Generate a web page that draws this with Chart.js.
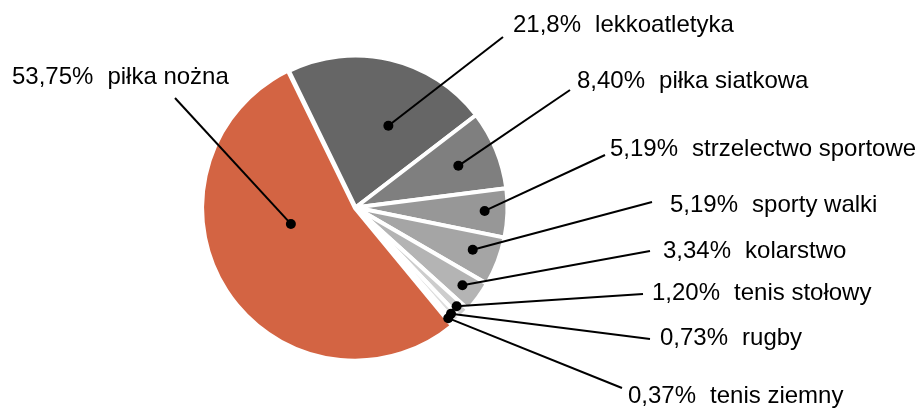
<!DOCTYPE html>
<html lang="pl">
  <head>
    <meta charset="utf-8">
    <title>Dyscypliny sportowe</title>
    <script src="https://cdn.jsdelivr.net/npm/chart.js@4.4.1/dist/chart.umd.min.js"></script>
    <style>
      body { margin: 0; background: #fff; }
      #wrap { width: 916px; height: 408px; }
    </style>
  </head>
  <body>
    <div id="wrap"><canvas id="chart-1" width="916" height="408"></canvas></div>

    <script>
      // data
      var sports = ['lekkoatletyka', 'piłka siatkowa', 'strzelectwo sportowe', 'sporty walki',
                    'kolarstwo', 'tenis stołowy', 'rugby', 'tenis ziemny', 'piłka nożna'];
      var shares = [21.8, 8.40, 5.19, 5.19, 3.34, 1.20, 0.73, 0.37, 53.75];
      var shareText = ['21,8%', '8,40%', '5,19%', '5,19%', '3,34%', '1,20%', '0,73%', '0,37%', '53,75%'];

      var colors = ['#666666', '#7f7f7f', '#979797', '#a5a5a5', '#b4b4b4',
                    '#cdcdcd', '#dddddd', '#ececec', '#d36443'];

      // where the dot sits inside its slice: [fraction of angle, fraction of radius]
      var dotPos = [[0.61, 0.58], [0.51, 0.73], [0.47, 0.85], [0.45, 0.82], [0.49, 0.87],
                    [0.5, 0.93], [0.6, 0.94], [0.7, 0.95], [0.6, 0.42]];
      // label layout: [text x, text middle y, line end x, line end y]
      var labelPos = [
        [513, 25, 503, 37],
        [577, 81, 570, 90],
        [610, 149, 605, 155],
        [670, 205, 652, 202],
        [663, 251, 650, 251],
        [652, 293, 643, 294],
        [660, 338, 650, 339],
        [628, 396, 622, 388],
        [12, 77, 175, 98]
      ];

      var leaderLabels = {
        id: 'leaderLabels',
        afterDatasetsDraw: function(chart) {
          var ctx = chart.ctx;
          var meta = chart.getDatasetMeta(0);
          ctx.save();
          ctx.font = '24px "Liberation Sans", Arial, sans-serif';
          ctx.textBaseline = 'middle';
          ctx.fillStyle = '#000';
          ctx.strokeStyle = '#000';
          ctx.lineWidth = 2;
          meta.data.forEach(function(arc, i) {
            var p = arc.getProps(['x', 'y', 'startAngle', 'endAngle', 'outerRadius'], true);
            var off = arc.options.offset || 0;
            var mid = (p.startAngle + p.endAngle) / 2;
            var cx = p.x + Math.cos(mid) * off;
            var cy = p.y + Math.sin(mid) * off;
            var a = p.startAngle + dotPos[i][0] * (p.endAngle - p.startAngle);
            var r = dotPos[i][1] * p.outerRadius;
            var dx = cx + Math.cos(a) * r;
            var dy = cy + Math.sin(a) * r;
            var lp = labelPos[i];

            ctx.beginPath();
            ctx.moveTo(dx, dy);
            ctx.lineTo(lp[2], lp[3]);
            ctx.stroke();
            ctx.beginPath();
            ctx.arc(dx, dy, 5, 0, Math.PI * 2);
            ctx.fill();

            ctx.textAlign = 'left';
            ctx.fillText(shareText[i], lp[0], lp[1]);
            var w = ctx.measureText(shareText[i]).width;
            ctx.fillText(sports[i], lp[0] + w + 14, lp[1]);
          });
          ctx.restore();
        }
      };

      new Chart(document.getElementById('chart-1'), {
        type: 'pie',
        data: {
          labels: sports,
          datasets: [{
            data: shares,
            backgroundColor: colors,
            borderColor: '#ffffff',
            borderWidth: 4,
            offset: [0, 0, 0, 0, 0, 0, 0, 0, 3]
          }]
        },
        options: {
          responsive: false,
          animation: false,
          rotation: -26,
          layout: { padding: { left: 200, right: 405, top: 52, bottom: 45 } },
          plugins: {
            legend: { display: false },
            tooltip: { enabled: false }
          }
        },
        plugins: [leaderLabels]
      });
    </script>
  </body>
</html>
